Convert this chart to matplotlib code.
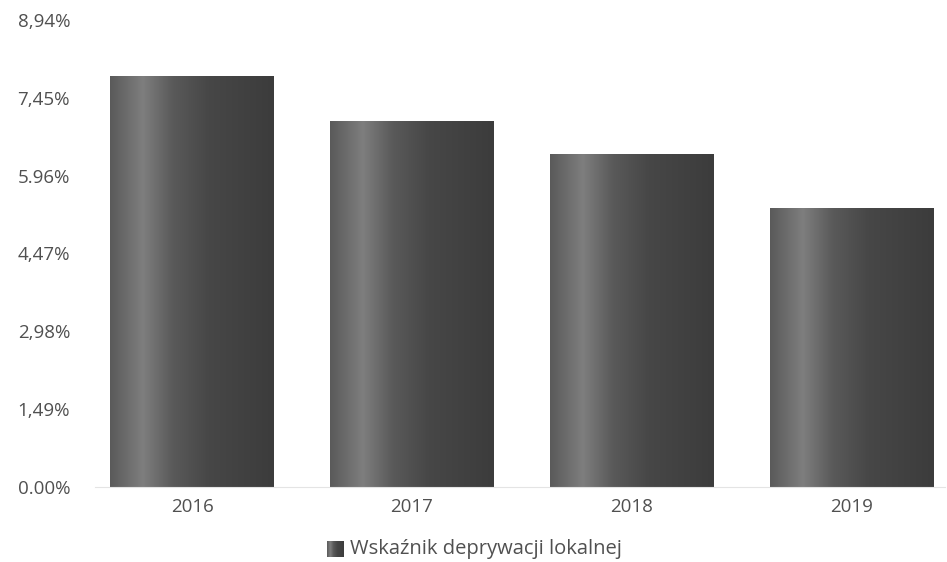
import matplotlib
matplotlib.use("Agg")
import matplotlib.pyplot as plt
import numpy as np
from matplotlib.colors import LinearSegmentedColormap

years = ["2016", "2017", "2018", "2019"]
values = [7.85, 6.99, 6.37, 5.34]
tick_values = [0.0, 1.49, 2.98, 4.47, 5.96, 7.45, 8.94]
tick_labels = ["0.00%", "1,49%", "2,98%", "4,47%", "5.96%", "7,45%", "8,94%"]
legend_label = "Wskaźnik deprywacji lokalnej"

plt.rcParams["font.family"] = ["Open Sans", "DejaVu Sans"]

# cylinder-like grey shading across each bar
shade = LinearSegmentedColormap.from_list(
    "shade",
    [(0.0, "#5a5a5a"), (0.2, "#7e7e7e"), (0.38, "#5a5a5a"),
     (0.6, "#474747"), (1.0, "#3c3c3c")],
)
grad = np.linspace(0, 1, 256).reshape(1, -1)

fig = plt.figure(figsize=(9.47, 5.62), dpi=100)
ax = fig.add_axes([95 / 947, 1 - 487 / 562, 850 / 947, 467 / 562])

x = np.arange(len(years))
bars = ax.bar(x, values, width=0.745, color="none", edgecolor="none", zorder=2)
for b in bars:
    x0, y0 = b.get_x(), b.get_y()
    ax.imshow(grad, cmap=shade, aspect="auto", zorder=2,
              interpolation="bilinear",
              extent=(x0, x0 + b.get_width(), y0, y0 + b.get_height()))

ax.set_xlim(-0.441, 3.423)
ax.set_ylim(0, 8.94)
ax.set_yticks(tick_values)
ax.set_yticklabels(tick_labels)
ax.set_xticks(x)
ax.set_xticklabels(years)

for s in ["top", "right", "left"]:
    ax.spines[s].set_visible(False)
ax.spines["bottom"].set_color("#e4e4e4")
ax.tick_params(axis="both", length=0, labelsize=13.5, colors="#505050")
ax.tick_params(axis="y", pad=18)
ax.tick_params(axis="x", pad=8)

# legend swatch + label
lax = fig.add_axes([327 / 947, 1 - 557 / 562, 17 / 947, 16 / 562])
lax.imshow(grad, cmap=shade, aspect="auto", interpolation="bilinear")
lax.axis("off")
fig.text(350 / 947, 1 - 549 / 562, legend_label, fontsize=14.5,
         color="#505050", va="center", ha="left")

fig.savefig("out.png", dpi=100)
